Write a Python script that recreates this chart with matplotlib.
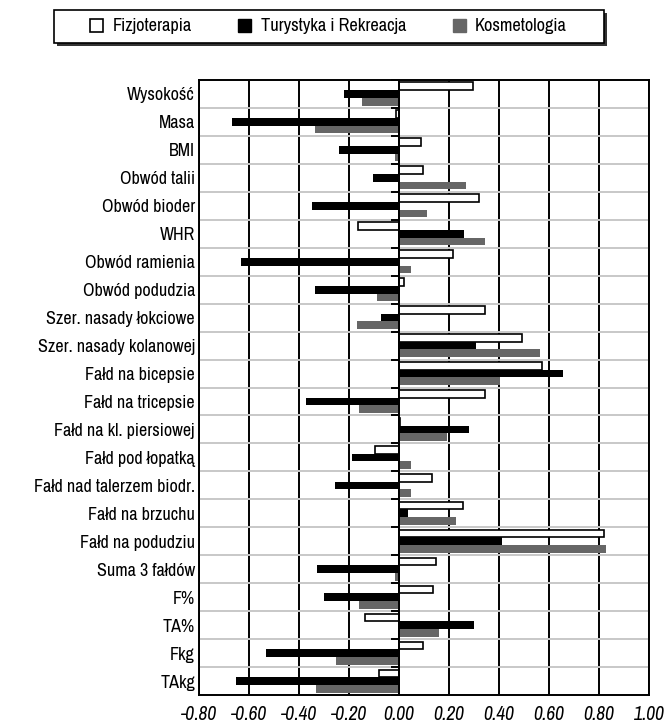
import matplotlib.pyplot as plt
import numpy as np
from matplotlib.patches import Patch, Rectangle

categories = [
    "Wysokość", "Masa", "BMI", "Obwód talii", "Obwód bioder", "WHR",
    "Obwód ramienia", "Obwód podudzia", "Szer. nasady łokciowe",
    "Szer. nasady kolanowej", "Fałd na bicepsie", "Fałd na tricepsie",
    "Fałd na kl. piersiowej", "Fałd pod łopatką", "Fałd nad talerzem biodr.",
    "Fałd na brzuchu", "Fałd na podudziu", "Suma 3 fałdów", "F%", "TA%",
    "Fkg", "TAkg",
]
fizjoterapia = [
    0.296, -0.011, 0.087, 0.096, 0.320, -0.164,
    0.217, 0.020, 0.344, 0.492, 0.572, 0.344,
    0.003, -0.095, 0.132, 0.257, 0.820, 0.148,
    0.137, -0.135, 0.096, -0.080,
]
turystyka = [
    -0.221, -0.669, -0.241, -0.103, -0.348, 0.259,
    -0.633, -0.337, -0.073, 0.307, 0.657, -0.372,
    0.280, -0.189, -0.255, 0.036, 0.411, -0.328,
    -0.299, 0.301, -0.533, -0.653,
]
kosmetologia = [
    -0.147, -0.337, -0.017, 0.269, 0.113, 0.345,
    0.048, -0.087, -0.167, 0.564, 0.403, -0.160,
    0.193, 0.049, 0.049, 0.229, 0.827, -0.017,
    -0.159, 0.161, -0.253, -0.333,
]
series_names = ["Fizjoterapia", "Turystyka i Rekreacja", "Kosmetologia"]
x_ticks = [-0.8, -0.6, -0.4, -0.2, 0.0, 0.2, 0.4, 0.6, 0.8, 1.0]

plt.rcParams["font.family"] = ["Archivo Narrow", "Roboto Condensed", "DejaVu Sans"]

fig = plt.figure(figsize=(6.68, 7.24), dpi=100)
ax = fig.add_axes([0.298, 0.040, 0.6735, 0.8495])

n = len(categories)
y = np.arange(n)
h = 0.275
styles = [
    dict(color="white", edgecolor="black", linewidth=1.2),
    dict(color="black", edgecolor="black", linewidth=0),
    dict(color="#666666", edgecolor="#666666", linewidth=0),
]
for i, (vals, st) in enumerate(zip([fizjoterapia, turystyka, kosmetologia], styles)):
    ax.barh(y + (i - 1) * h, vals, height=h, zorder=3, **st)

ax.set_ylim(n - 0.5, -0.5)
ax.set_xlim(-0.8, 1.0)
ax.set_xticks(x_ticks)
ax.set_xticklabels([f"{v:.2f}" for v in x_ticks], fontsize=14, style="italic")
ax.set_yticks(y)
ax.set_yticklabels(categories, fontsize=13)
ax.tick_params(axis="both", length=0)
ax.tick_params(axis="y", pad=3)
ax.tick_params(axis="x", pad=7)

# grid: black verticals, light grey horizontals at category boundaries
for v in x_ticks:
    ax.axvline(v, color="black", linewidth=1.4, zorder=1)
ax.set_yticks(np.arange(n + 1) - 0.5, minor=True)
ax.tick_params(axis="y", which="minor", length=0)
ax.grid(True, axis="y", which="minor", color="#c8c8c8", linewidth=1.4, zorder=0)
for s in ax.spines.values():
    s.set_linewidth(1.4)
    s.set_color("black")

# category axis crossing at zero with outward tick marks
ax2 = ax.twinx()
ax2.set_ylim(ax.get_ylim())
ax2.spines["left"].set_position(("data", 0))
ax2.spines["left"].set_visible(True)
ax2.spines["left"].set_linewidth(1.4)
for side in ["right", "top", "bottom"]:
    ax2.spines[side].set_visible(False)
ax2.yaxis.set_ticks_position("left")
ax2.set_yticks(np.arange(n + 1) - 0.5)
ax2.set_yticklabels([])
ax2.tick_params(axis="y", length=6, width=1.4, direction="out")

# legend box with drop shadow
box = (0.0808, 0.9406, 0.8234, 0.0456)
fig.patches.append(Rectangle((box[0] + 0.0045, box[1] - 0.0041), box[2], box[3],
                             transform=fig.transFigure, facecolor="#333333",
                             edgecolor="none", zorder=1))
fig.patches.append(Rectangle(box[:2], box[2], box[3], transform=fig.transFigure,
                             facecolor="white", edgecolor="black", linewidth=1.2,
                             zorder=2))

handles = [
    Patch(facecolor="white", edgecolor="black", linewidth=1.2),
    Patch(facecolor="black", edgecolor="black"),
    Patch(facecolor="#666666", edgecolor="#666666"),
]
leg = fig.legend(
    handles, series_names, loc="center", bbox_to_anchor=(0.4918, 0.9634),
    ncol=3, fontsize=13.2, frameon=False,
    handlelength=0.71, handleheight=0.71, handletextpad=0.5,
    columnspacing=2.55, borderpad=0.2,
)
leg.set_zorder(5)

fig.savefig("out.png", dpi=100)
